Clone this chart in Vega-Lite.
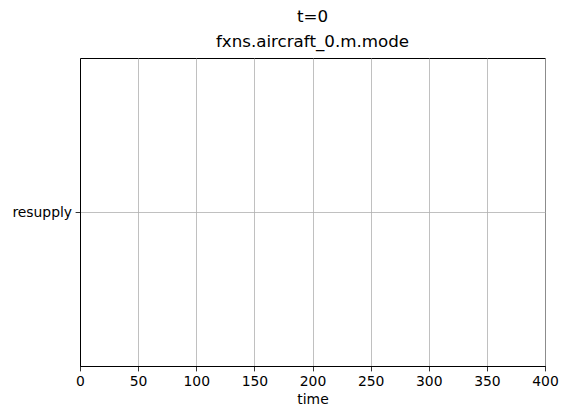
{
  "$schema": "https://vega.github.io/schema/vega-lite/v6.json",
  "width": 465,
  "height": 308,
  "autosize": {"type": "none"},
  "padding": {"left": 80, "top": 58, "right": 22, "bottom": 53},
  "background": "white",
  "title": {
    "text": "t=0",
    "subtitle": "fxns.aircraft_0.m.mode",
    "anchor": "middle",
    "font": "DejaVu Sans",
    "fontSize": 16.7,
    "fontWeight": "normal",
    "color": "black",
    "subtitleFont": "DejaVu Sans",
    "subtitleFontSize": 16.7,
    "subtitleColor": "black",
    "subtitlePadding": 9,
    "offset": 7
  },
  "data": {"values": [{"time": 0, "mode": "resupply"}]},
  "mark": {"type": "line", "color": "#1f77b4"},
  "encoding": {
    "x": {
      "field": "time",
      "type": "quantitative",
      "scale": {"domain": [0, 400], "nice": false, "zero": false},
      "axis": {"values": [0, 50, 100, 150, 200, 250, 300, 350, 400], "title": "time", "titlePadding": 4}
    },
    "y": {
      "field": "mode",
      "type": "nominal",
      "scale": {"type": "point", "padding": 0.5},
      "axis": {"title": null}
    }
  },
  "config": {
    "view": {"stroke": "black", "strokeWidth": 1},
    "axis": {
      "grid": true,
      "gridColor": "#b0b0b0",
      "gridWidth": 0.8,
      "domainColor": "black",
      "domainWidth": 1,
      "tickColor": "black",
      "tickSize": 4.9,
      "tickWidth": 0.8,
      "labelPadding": 3.5,
      "labelColor": "black",
      "labelFont": "DejaVu Sans",
      "labelFontSize": 13.9,
      "titleFont": "DejaVu Sans",
      "titleFontSize": 13.9,
      "titleFontWeight": "normal",
      "titleColor": "black",
      "labelFlush": false
    }
  }
}
